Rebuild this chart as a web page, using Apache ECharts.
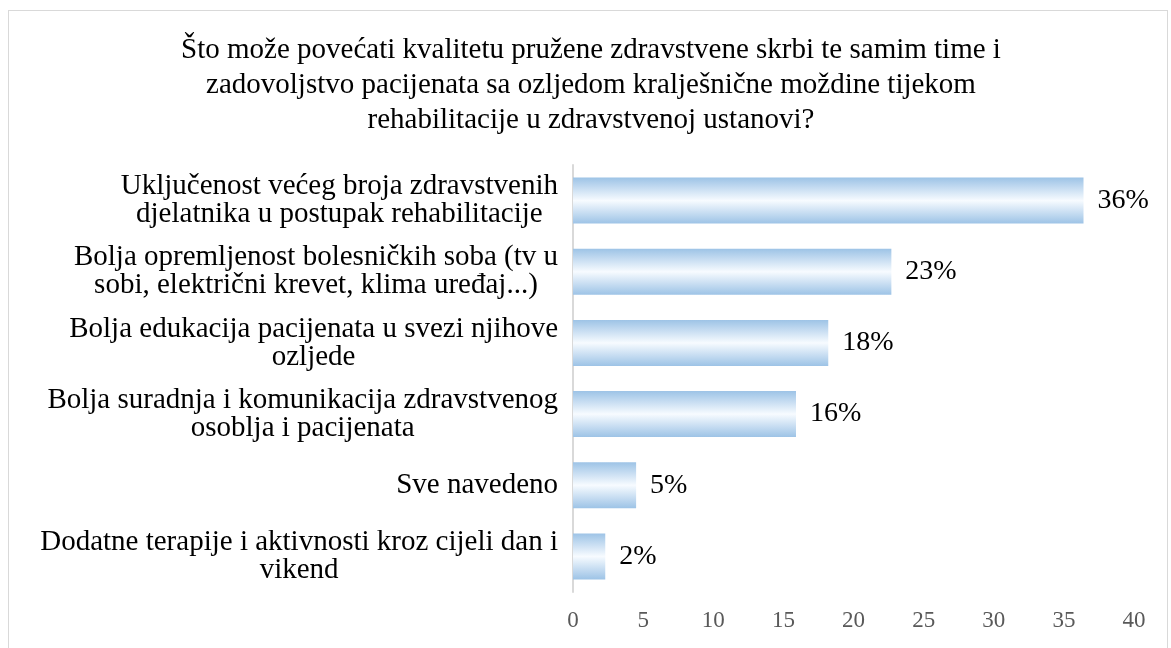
<!DOCTYPE html>
<html>
<head>
<meta charset="utf-8">
<script src="https://cdn.jsdelivr.net/npm/echarts@6/dist/echarts.min.js"></script>
<style>
  html, body { margin: 0; padding: 0; background: #fff; }
  #frame { position: absolute; left: 8px; top: 10px; width: 1160px; height: 660px; border: 1px solid #d9d9d9; box-sizing: border-box; }
  #chart { position: absolute; left: 0; top: 0; width: 1171px; height: 648px; }
</style>
</head>
<body>
<div id="frame"></div>
<div id="chart"></div>
<script>
// naslov grafikona
var titleText = "Što može povećati kvalitetu pružene zdravstvene skrbi te samim time i\nzadovoljstvo pacijenata sa ozljedom kralješnične moždine tijekom\nrehabilitacije u zdravstvenoj ustanovi?";
// kategorije (odozgo prema dolje)
var categories = [
  "Uključenost većeg broja zdravstvenih\ndjelatnika u postupak rehabilitacije",
  "Bolja opremljenost bolesničkih soba (tv u\nsobi, električni krevet, klima uređaj...)",
  "Bolja edukacija pacijenata u svezi njihove\nozljede",
  "Bolja suradnja i komunikacija zdravstvenog\nosoblja i pacijenata",
  "Sve navedeno",
  "Dodatne terapije i aktivnosti kroz cijeli dan i\nvikend"
];
// postotci
var values = [36.4, 22.7, 18.2, 15.9, 4.5, 2.3];
var xTicks = [0, 5, 10, 15, 20, 25, 30, 35, 40];

var chart = echarts.init(document.getElementById("chart"));
var barColor = new echarts.graphic.LinearGradient(0, 0, 0, 1, [
  { offset: 0, color: "#9dc3e6" },
  { offset: 0.5, color: "#f7fbff" },
  { offset: 1, color: "#9dc3e6" }
]);
var option = {
  backgroundColor: "transparent",
  animation: false,
  title: {
    text: titleText,
    left: 586,
    top: 28,
    textAlign: "center",
    textStyle: {
      fontFamily: "Liberation Serif",
      fontSize: 29,
      fontWeight: "normal",
      color: "#000",
      lineHeight: 35
    }
  },
  grid: { left: 573, right: 37, top: 165, bottom: 56 },
  xAxis: {
    type: "value",
    min: xTicks[0],
    max: xTicks[xTicks.length - 1],
    interval: 5,
    axisLine: { show: false },
    axisTick: { show: false },
    splitLine: { show: false },
    axisLabel: {
      fontFamily: "Liberation Serif",
      fontSize: 23,
      color: "#595959",
      margin: 17
    }
  },
  yAxis: {
    type: "category",
    inverse: true,
    data: categories,
    axisLine: { show: true, lineStyle: { color: "#d9d9d9", width: 2 } },
    axisTick: { show: false },
    axisLabel: {
      fontFamily: "Liberation Serif",
      fontSize: 29,
      color: "#000",
      lineHeight: 28,
      margin: 15,
      align: "right",
      // reci unutar oznake centrirani
      formatter: function (value) {
        return value.split("\n").map(function (line) {
          return "{c|" + line + "}";
        }).join("\n");
      },
      rich: {
        c: {
          align: "center",
          fontFamily: "Liberation Serif",
          fontSize: 29,
          lineHeight: 28,
          color: "#000"
        }
      }
    }
  },
  series: [
    {
      type: "bar",
      data: values,
      barWidth: 46,
      itemStyle: { color: barColor },
      label: {
        show: true,
        position: "right",
        distance: 14,
        fontFamily: "Liberation Serif",
        fontSize: 28,
        color: "#000",
        formatter: function (p) { return Math.round(p.value) + "%"; }
      }
    }
  ]
};
chart.setOption(option);
</script>
</body>
</html>
